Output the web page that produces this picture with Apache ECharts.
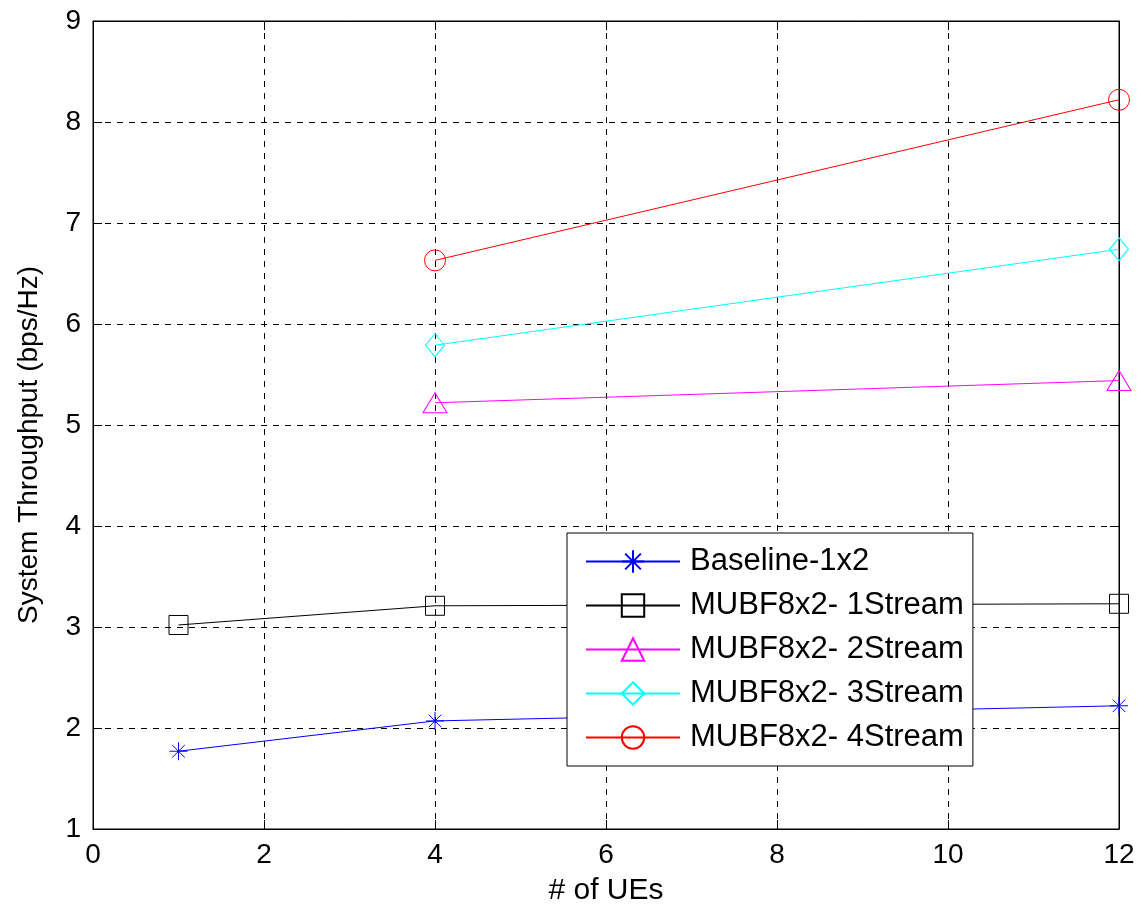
<!DOCTYPE html>
<html>
<head>
<meta charset="utf-8">
<script src="https://cdn.jsdelivr.net/npm/echarts@6/dist/echarts.min.js"></script>
<style>
  html, body { margin: 0; padding: 0; background: #fff; }
  #main { width: 1140px; height: 911px; }
</style>
</head>
<body>
<div id="main"></div>
<script>
    // data
    var xBaseline = [1, 4, 12];
    var yBaseline = [1.77, 2.07, 2.22];
    var x1Stream = [1, 4, 12];
    var y1Stream = [3.02, 3.21, 3.23];
    var x2Stream = [4, 12];
    var y2Stream = [5.22, 5.44];
    var x3Stream = [4, 12];
    var y3Stream = [5.79, 6.74];
    var x4Stream = [4, 12];
    var y4Stream = [6.63, 8.22];
    var seriesNames = ['Baseline-1x2', 'MUBF8x2- 1Stream', 'MUBF8x2- 2Stream', 'MUBF8x2- 3Stream', 'MUBF8x2- 4Stream'];

    var FONT = 'Liberation Sans, Arial, sans-serif';
    var asterisk = 'path://M10,0L10,20M0,10L20,10M3,3L17,17M3,17L17,3';

    function pairs(xs, ys) {
        return xs.map(function (x, i) { return [x, ys[i]]; });
    }

    function mkSeries(name, data, color, symbol, size) {
        return {
            name: name,
            type: 'line',
            data: data,
            symbol: symbol,
            symbolSize: size,
            showAllSymbol: true,
            animation: false,
            lineStyle: { color: color, width: 1 },
            itemStyle: { color: 'rgba(0,0,0,0)', borderColor: color, borderWidth: 1 },
            emphasis: { disabled: true },
            z: 3
        };
    }

    var gridLine = { show: true, lineStyle: { color: '#000', width: 1, type: [6, 6] } };

    var myChart = echarts.init(document.getElementById('main'));
    var option = {
        backgroundColor: '#fff',
        animation: false,
        grid: { left: 93, right: 21, top: 21, bottom: 82, show: true, borderColor: '#000', borderWidth: 1, backgroundColor: '#fff' },
        legend: {
            data: seriesNames,
            orient: 'vertical',
            left: 567,
            top: 533,
            itemWidth: 94,
            itemHeight: 28,
            itemGap: 13,
            padding: [13, 9, 13, 18],
            backgroundColor: '#fff',
            borderColor: '#000',
            borderWidth: 1,
            borderRadius: 0,
            selectedMode: false,
            textStyle: { fontFamily: FONT, fontSize: 31, lineHeight: 31, color: '#000', padding: [0, 0, 0, 5] }
        },
        xAxis: [{
            type: 'value',
            min: 0, max: 12, interval: 2,
            name: '# of UEs',
            nameLocation: 'middle',
            nameGap: 47,
            nameTextStyle: { fontFamily: FONT, fontSize: 30, color: '#000' },
            axisLine: { show: true, onZero: false, lineStyle: { color: '#000', width: 1 } },
            axisTick: { show: true, inside: true, length: 9, lineStyle: { color: '#000' } },
            axisLabel: { fontFamily: FONT, fontSize: 28, color: '#000', margin: 12 },
            splitLine: gridLine
        }, {
            type: 'value',
            position: 'top',
            min: 0, max: 12, interval: 2,
            axisLine: { show: true, onZero: false, lineStyle: { color: '#000', width: 1 } },
            axisTick: { show: true, inside: true, length: 9, lineStyle: { color: '#000' } },
            axisLabel: { show: false },
            splitLine: { show: false }
        }],
        yAxis: [{
            type: 'value',
            min: 1, max: 9, interval: 1,
            name: 'System Throughput (bps/Hz)',
            nameLocation: 'middle',
            nameGap: 50,
            nameTextStyle: { fontFamily: FONT, fontSize: 28, color: '#000', padding: [0, 40, 0, 0] },
            axisLine: { show: true, onZero: false, lineStyle: { color: '#000', width: 1 } },
            axisTick: { show: true, inside: true, length: 9, lineStyle: { color: '#000' } },
            axisLabel: { fontFamily: FONT, fontSize: 28, color: '#000', margin: 12 },
            splitLine: gridLine
        }, {
            type: 'value',
            position: 'right',
            min: 1, max: 9, interval: 1,
            axisLine: { show: true, onZero: false, lineStyle: { color: '#000', width: 1 } },
            axisTick: { show: true, inside: true, length: 9, lineStyle: { color: '#000' } },
            axisLabel: { show: false },
            splitLine: { show: false }
        }],
        series: [
            mkSeries(seriesNames[0], pairs(xBaseline, yBaseline), '#0000ff', asterisk, 18),
            mkSeries(seriesNames[1], pairs(x1Stream, y1Stream), '#000000', 'rect', 19),
            mkSeries(seriesNames[2], pairs(x2Stream, y2Stream), '#ff00ff', 'triangle', [24, 20]),
            mkSeries(seriesNames[3], pairs(x3Stream, y3Stream), '#00ffff', 'diamond', [19, 23]),
            mkSeries(seriesNames[4], pairs(x4Stream, y4Stream), '#ff0000', 'circle', 21)
        ]
    };
    myChart.setOption(option);
    window.addEventListener('resize', function () {
        myChart.resize();
    });
</script>
</body>
</html>
